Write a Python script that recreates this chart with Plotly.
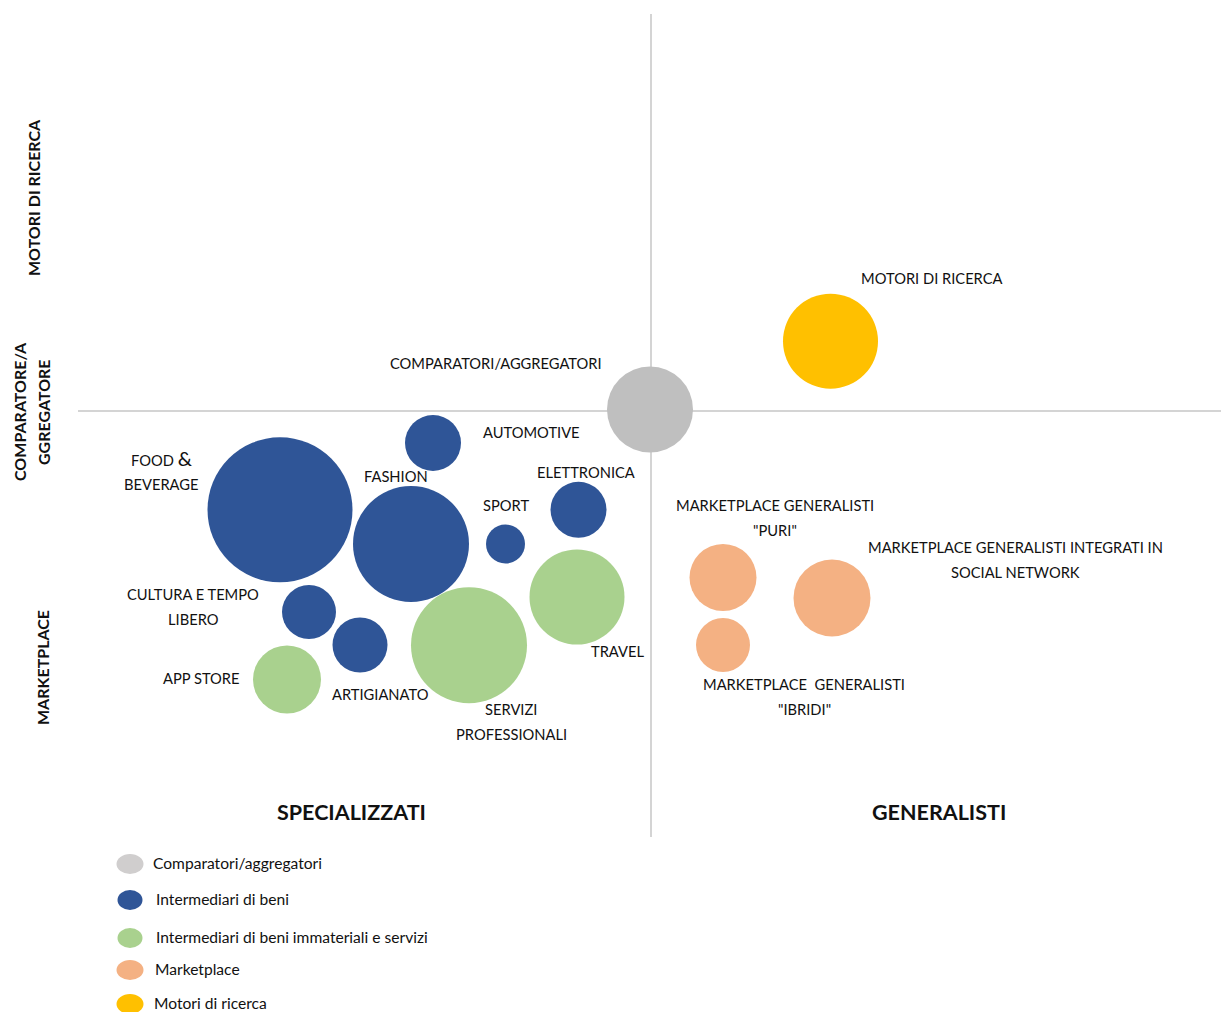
import plotly.graph_objects as go

W, H = 1221, 1012

# ---- data (conceptual map: x = generalist degree, y = type of intermediary) ----
names = ["COMPARATORI/AGGREGATORI", "MOTORI DI RICERCA", "AUTOMOTIVE", "FOOD & BEVERAGE",
         "FASHION", "SPORT", "ELETTRONICA", "TRAVEL", "SERVIZI PROFESSIONALI",
         "CULTURA E TEMPO LIBERO", "ARTIGIANATO", "APP STORE",
         "MARKETPLACE GENERALISTI PURI", "MARKETPLACE GENERALISTI IBRIDI",
         "MARKETPLACE GENERALISTI INTEGRATI IN SOCIAL NETWORK"]
x_vals = [-0.1, 17.95, -21.8, -37.1, -24.0, -14.55, -7.25, -7.4, -18.2, -34.2, -29.1, -36.4, 7.2, 7.2, 18.1]
y_vals = [0.15, 6.98, -3.2, -9.88, -13.3, -13.3, -9.88, -18.6, -23.42, -20.1, -23.4, -26.85, -16.65, -23.4, -18.7]
sizes = [86, 95, 56, 145, 116, 39, 56, 95, 116, 54, 55, 68, 67, 54, 77]
groups = ["Comparatori/aggregatori", "Motori di ricerca", "Intermediari di beni", "Intermediari di beni",
          "Intermediari di beni", "Intermediari di beni", "Intermediari di beni",
          "Intermediari di beni immateriali e servizi", "Intermediari di beni immateriali e servizi",
          "Intermediari di beni", "Intermediari di beni", "Intermediari di beni immateriali e servizi",
          "Marketplace", "Marketplace", "Marketplace"]

legend_order = ["Comparatori/aggregatori", "Intermediari di beni",
                "Intermediari di beni immateriali e servizi", "Marketplace", "Motori di ricerca"]
group_colors = {"Comparatori/aggregatori": "#BFBFBF", "Intermediari di beni": "#2F5597",
                "Intermediari di beni immateriali e servizi": "#A9D18E",
                "Marketplace": "#F4B183", "Motori di ricerca": "#FFC000"}
legend_swatch = {"Comparatori/aggregatori": "#D0CECE"}

FONT = "Lato"
TXT = "#111111"

fig = go.Figure()
for g in legend_order:
    idx = [i for i, gg in enumerate(groups) if gg == g]
    fig.add_trace(go.Scatter(
        x=[x_vals[i] for i in idx], y=[y_vals[i] for i in idx],
        mode="markers", name=g, showlegend=False,
        text=[names[i] for i in idx], hoverinfo="text",
        marker=dict(size=[sizes[i] for i in idx], sizemode="diameter", sizeref=1,
                    color=group_colors[g], opacity=1, line=dict(width=0))))

def px(x): return x / W
def py(y): return 1 - y / H

anns = []
def label(lines, cx, cy, size=14.7, bold=False, step=25, angle=0):
    for k, ln in enumerate(lines):
        t = f"<b>{ln}</b>" if bold else ln
        if angle == 0:
            anns.append(dict(x=px(cx), y=py(cy + k * step), xref="paper", yref="paper",
                             text=t, showarrow=False, xanchor="center", yanchor="middle",
                             font=dict(family=FONT, size=size, color=TXT)))
        else:
            anns.append(dict(x=px(cx + k * step), y=py(cy), xref="paper", yref="paper",
                             text=t, showarrow=False, xanchor="center", yanchor="middle",
                             textangle=angle, font=dict(family=FONT, size=size, color=TXT)))

# bubble labels
label(["MOTORI DI RICERCA"], 932, 278)
label(["COMPARATORI/AGGREGATORI"], 496, 363)
label(["AUTOMOTIVE"], 531, 432)
label(["FOOD <span style='font-size:20px'>&</span>", "BEVERAGE"], 162, 458, step=26)
label(["FASHION"], 396, 476)
label(["ELETTRONICA"], 586, 472)
label(["SPORT"], 506, 505)
label(["CULTURA E TEMPO", "LIBERO"], 193, 594)
label(["APP STORE"], 201, 678)
label(["ARTIGIANATO"], 380, 694)
label(["SERVIZI", "PROFESSIONALI"], 511, 709)
label(["TRAVEL"], 617, 651)
label(["MARKETPLACE GENERALISTI", "\"PURI\""], 775, 505)
label(["MARKETPLACE GENERALISTI INTEGRATI IN", "SOCIAL NETWORK"], 1015, 547)
label(["MARKETPLACE  GENERALISTI", "\"IBRIDI\""], 804, 684)

# axis category labels
label(["SPECIALIZZATI"], 351, 812, size=21.5, bold=True)
label(["GENERALISTI"], 939, 812, size=21.5, bold=True)
label(["MOTORI DI RICERCA"], 34, 198, size=16, bold=True, angle=-90)
label(["COMPARATORE/A", "GGREGATORE"], 19, 412, size=16, bold=True, step=24, angle=-90)
label(["MARKETPLACE"], 42, 668, size=16, bold=True, angle=-90)

# custom legend
shapes = []
leg_y = [864, 900, 938, 970, 1004]
leg_tx = [151, 154, 154, 153, 152]
leg_w = [27, 25, 25, 27, 27]
for g, yy, tx, w in zip(legend_order, leg_y, leg_tx, leg_w):
    col = legend_swatch.get(g, group_colors[g])
    shapes.append(dict(type="circle", xref="paper", yref="paper",
                       x0=px(130 - w / 2), x1=px(130 + w / 2), y0=py(yy + 10), y1=py(yy - 10),
                       fillcolor=col, line=dict(width=0)))
    anns.append(dict(x=px(tx), y=py(yy - 1), xref="paper", yref="paper", text=g, showarrow=False,
                     xanchor="left", yanchor="middle", font=dict(family=FONT, size=15.6, color=TXT)))

fig.update_layout(
    width=W, height=H, margin=dict(l=0, r=0, t=0, b=0),
    paper_bgcolor="white", plot_bgcolor="white",
    xaxis=dict(domain=[78 / W, 1], range=[-57.3, 57.0], showgrid=False, showticklabels=False,
               ticks="", zeroline=True, zerolinecolor="#D4D4D4", zerolinewidth=1.5, showline=False),
    yaxis=dict(domain=[1 - 837 / H, 1 - 14 / H], range=[-42.6, 39.7], showgrid=False,
               showticklabels=False, ticks="", zeroline=True, zerolinecolor="#D4D4D4",
               zerolinewidth=1.5, showline=False),
    annotations=anns, shapes=shapes, showlegend=False,
)

fig.write_html("out.html")
